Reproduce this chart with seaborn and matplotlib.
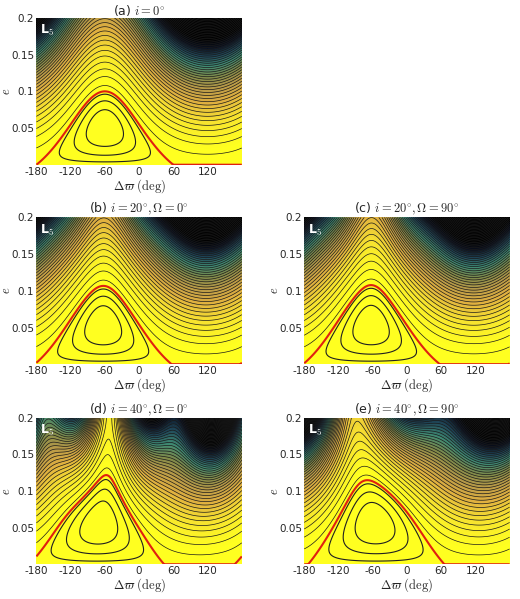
import numpy as np
import matplotlib
matplotlib.use("Agg")
import matplotlib.pyplot as plt
from matplotlib.colors import LinearSegmentedColormap, Normalize
import seaborn as sns

sns.set_style("ticks")
plt.rcParams['font.family'] = ['DejaVu Sans']
plt.rcParams['mathtext.fontset'] = 'cm'

titles = [r"(a) $i=0^{\circ}$", r"(b) $i=20^{\circ},\Omega=0^{\circ}$",
          r"(c) $i=20^{\circ},\Omega=90^{\circ}$", r"(d) $i=40^{\circ},\Omega=0^{\circ}$",
          r"(e) $i=40^{\circ},\Omega=90^{\circ}$"]
slots = [(0, 0), (1, 0), (1, 1), (2, 0), (2, 1)]
center_deg = [-60, -63, -65, -55, -65]
sep_top = [0.10, 0.105, 0.105, 0.105, 0.11]
tilt = [0.30, 0.30, 0.32, 0.20, 0.15]
skew = [0.0, 0.0, 0.05, -0.35, 0.2]
harm_amp = [0.0, 0.04, 0.06, 0.30, 0.28]
harm_n = [3, 3, 3, 3, 2]
harm_phase = [-60, -60, -60, -50, -100]
xticks = [-180, -120, -60, 0, 60, 120]
yticks = [0.05, 0.1, 0.15, 0.2]

cmap = LinearSegmentedColormap.from_list("res", ["#ffff20", "#f6e030", "#e0b040", "#b89a48",
                                                  "#7f8a4a", "#3f8a72", "#20485a", "#0a1020", "#000000"])

fig = plt.figure(figsize=(5.2, 5.99), dpi=100)
W, H = 0.395, 0.245
lefts = [0.07, 0.585]
bottoms = [0.725, 0.392, 0.058]

x = np.linspace(-180, 180, 361)
e = np.linspace(0, 0.2, 241)
X, E = np.meshgrid(x, e)
for k, (r, c) in enumerate(slots):
    ax = fig.add_axes([lefts[c], bottoms[r], W, H])
    dx = np.radians(X - center_deg[k])
    a = tilt[k]
    ef = sep_top[k] * (1 - a) / 2
    mod = harm_amp[k] * np.cos(np.radians(harm_n[k] * (X - harm_phase[k]))) * (E / 0.2) ** 2
    lin = np.cos(dx) + 0.5 + skew[k] * np.sin(dx)
    G = E**2 * (1 - a * np.cos(dx) - mod) - 2 * E * ef * lin / 1.5
    gmin = G.min()
    ax.contourf(X, E, G, levels=200, cmap=cmap,
                norm=Normalize(vmin=0.001, vmax=0.042))
    inner = [gmin * 0.75, gmin * 0.45, gmin * 0.15]
    ax.contour(X, E, G, levels=inner, colors='#202020', linewidths=0.8, linestyles='solid')
    outer = np.arange(0.0006, G.max(), 0.0011)
    ax.contour(X, E, G, levels=outer, colors='#1a1a1a', linewidths=0.5, linestyles='solid')
    ax.contour(X, E, G, levels=[0.0], colors='#e02010', linewidths=1.5)
    ax.set_xlim(-180, 180)
    ax.set_ylim(0, 0.2)
    ax.set_xticks(xticks)
    ax.set_xticklabels([str(t) for t in xticks], fontsize=7.5)
    ax.set_yticks(yticks)
    ax.set_yticklabels([str(t) for t in yticks], fontsize=7.5)
    ax.tick_params(length=0, pad=1.5)
    for s in ax.spines.values():
        s.set_visible(False)
    ax.set_title(titles[k], fontsize=9, pad=2)
    ax.set_xlabel(r"$\Delta\varpi\ \mathrm{(deg)}$", fontsize=9, labelpad=0)
    ax.set_ylabel(r"$e$", fontsize=9, rotation=90)
    ax.yaxis.set_label_coords(-0.115, 0.5)
    ax.text(-174, 0.193, r"L$_\mathbf{5}$", color='white', fontsize=9,
            fontweight='bold', va='top', ha='left')

fig.savefig("out.png", dpi=100)
